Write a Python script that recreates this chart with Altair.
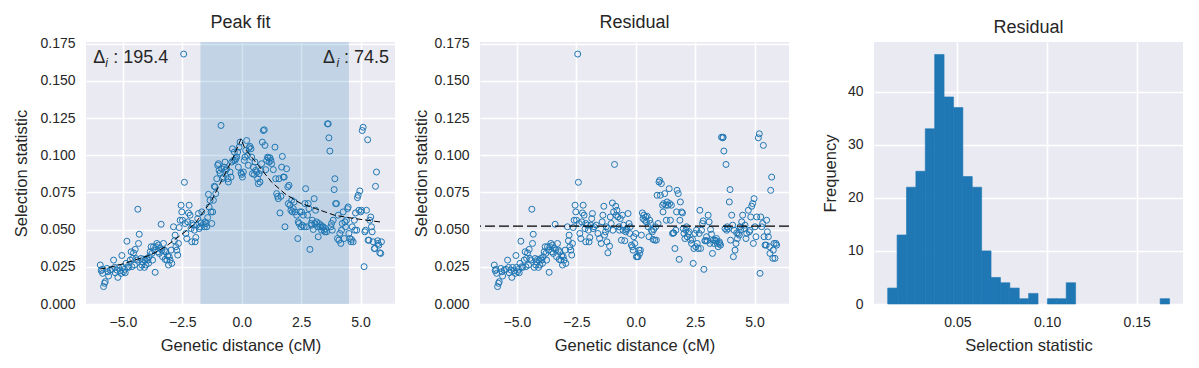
import altair as alt
import pandas as pd
import numpy as np

# ---------------- data ----------------
# Peak-fit panel: genetic distance (cM) and selection statistic
peak_x = [
    -5.95, -5.88, -5.85, -5.81, -5.77, -5.74, -5.91, -5.67, -5.63, -5.60,
    -5.53, -5.46, -5.39, -5.35, -5.32, -5.25, -5.21, -5.18, -5.11, -5.07,
    -5.04, -5.01, -4.97, -4.93, -4.90, -4.87, -4.83, -4.79, -4.76, -4.69,
    -4.65, -4.62, -4.59, -4.55, -4.51, -4.48, -4.45, -4.41, -4.37, -4.34,
    -4.31, -4.27, -4.23, -4.20, -4.17, -4.13, -4.09, -4.06, -4.03, -3.99,
    -3.95, -3.92, -3.89, -3.85, -3.81, -3.78, -3.75, -3.71, -3.67, -3.64,
    -3.61, -3.57, -3.53, -3.50, -3.47, -3.43, -3.39, -3.36, -3.33, -3.29,
    -3.25, -3.22, -3.19, -3.15, -3.11, -3.08, -3.05, -3.01, -2.97, -2.94,
    -2.87, -2.83, -2.80, -2.77, -2.73, -2.69, -2.66, -2.63, -2.59, -2.55,
    -2.52, -2.49, -2.44, -2.41, -2.38, -2.35, -2.31, -2.27, -2.24, -2.21,
    -2.17, -2.13, -2.10, -2.10, -2.03, -1.99, -1.96, -1.93, -1.89, -1.85,
    -1.82, -1.79, -1.75,
    -1.71, -1.68, -1.61, -1.57, -1.54, -1.50, -1.47, -1.43, -1.40, -1.37,
    -1.33, -1.29, -1.26, -1.22, -1.19, -1.15, -1.12, -1.09, -1.05, -1.01,
    -0.98, -0.95, -0.91, -0.87, -0.84, -0.81, -0.77, -0.73, -0.70, -0.67,
    -0.63, -0.59, -0.56, -0.49, -0.45, -0.42, -0.39, -0.35, -0.31, -0.28,
    -0.25, -0.21, -0.17, -0.14, -0.11, -0.07, -0.03, 0.00, 0.03, 0.07,
    0.11, 0.14, 0.17, 0.21, 0.25, 0.28, 0.31, 0.35, 0.39, 0.42,
    0.45, 0.49, 0.53, 0.56, 0.59, 0.63, 0.67, 0.70, 0.73, 0.77,
    0.81, 0.84, 0.87, 0.91, 0.95, 0.98, 1.01, 1.05, 1.09, 1.12,
    1.15, 1.19, 1.23, 1.26, 1.33, 1.40, 1.43, 1.47, 1.51, 1.54,
    1.57, 1.61, 1.65, 1.68, 1.71, 1.75, 1.79, 1.82, 1.89, 1.94,
    1.96, 1.99, 2.03, 2.07, 2.10, 2.13, 2.17, 2.21, 2.24, 2.31,
    2.36, 2.38, 2.41, 2.45, 2.49, 2.52, 2.55, 2.59, 2.63, 2.66,
    2.69, 2.73, 2.77, 2.80, 2.83, 2.87, 2.92, 2.94, 2.97, 3.01,
    3.05, 3.08, 3.11, 3.15, 3.20, 3.22, 3.25, 3.29, 3.33, 3.36,
    3.39, 3.43, 3.47, 3.50, 3.53, 3.57, 3.61, 3.64, 3.67, 3.71,
    3.75, 3.78, 3.81, 3.85, 3.89, 3.92, 3.95, 3.99, 4.03, 4.06,
    4.09, 4.13, 4.17, 4.20, 4.23, 4.27, 4.31, 4.34, 4.37, 4.41,
    4.45, 4.48, 4.51, 4.55, 4.60, 4.62, 4.65, 4.69, 4.74, 4.76,
    4.79, 4.84, 4.87, 4.90, 4.93, 4.97, 5.01, 5.04, 5.07, 5.11,
    5.15, 5.18, 5.21, 5.25, 5.30, 5.32, 5.35, 5.39, 5.43, 5.46,
    5.49, 5.53, 5.58, 5.60, 5.63, 5.67, 5.72, 5.74, 5.77, 5.81,
    5.85, 5.88,
]
peak_y = [
    0.0262, 0.0233, 0.0206, 0.0117, 0.0139, 0.0150, 0.0224, 0.0239, 0.0217, 0.0188,
    0.0228, 0.0233, 0.0295, 0.0246, 0.0210, 0.0228, 0.0179, 0.0246, 0.0224, 0.0206,
    0.0326, 0.0246, 0.0217, 0.0233, 0.0210, 0.0273, 0.0422, 0.0251, 0.0246, 0.0295,
    0.0351, 0.0251, 0.0306, 0.0344, 0.0262, 0.0367, 0.0306, 0.0295, 0.0637, 0.0407,
    0.0469, 0.0246, 0.0306, 0.0262, 0.0284, 0.0300, 0.0246, 0.0295, 0.0262, 0.0306,
    0.0295, 0.0273, 0.0318, 0.0351, 0.0385, 0.0340, 0.0295, 0.0385, 0.0362, 0.0213,
    0.0385, 0.0407, 0.0351, 0.0396, 0.0340, 0.0373, 0.0536, 0.0362, 0.0318, 0.0407,
    0.0362, 0.0300, 0.0351, 0.0295, 0.0322, 0.0262, 0.0318, 0.0295, 0.0362, 0.0273,
    0.0519, 0.0425, 0.0463, 0.0385, 0.0362, 0.0329, 0.0407, 0.0514, 0.0563, 0.0664,
    0.0619, 0.0563, 0.1680, 0.0818, 0.0541, 0.0474, 0.0440, 0.0552, 0.0612, 0.0664,
    0.0597, 0.0507, 0.0541, 0.0418, 0.0530, 0.0496, 0.0418, 0.0447, 0.0530, 0.0574,
    0.0608, 0.0507, 0.0519,
    0.0545, 0.0619, 0.0536, 0.0519, 0.0552, 0.0541, 0.0519, 0.0581, 0.0737, 0.0652,
    0.0697, 0.0619, 0.0541, 0.0619, 0.0697, 0.0791, 0.0787, 0.0742, 0.0842, 0.0932,
    0.0943, 0.0898, 0.0880, 0.1200, 0.0909, 0.0842, 0.0853, 0.0920, 0.0954, 0.0898,
    0.0909, 0.0842, 0.0820, 0.0887, 0.0853, 0.0954, 0.1043, 0.0965, 0.1021, 0.0965,
    0.0976, 0.0987, 0.1021, 0.0920, 0.1054, 0.1088, 0.0880, 0.0871, 0.0853, 0.0887,
    0.0965, 0.0987, 0.1032, 0.1099, 0.0999, 0.0932, 0.1050, 0.1059, 0.1043, 0.0987,
    0.0876, 0.0920, 0.0871, 0.0954, 0.0898, 0.0887, 0.0842, 0.0809, 0.0876, 0.0820,
    0.0898, 0.0943, 0.1088, 0.1166, 0.1171, 0.1066, 0.0903, 0.0965, 0.0987, 0.0983,
    0.0954, 0.0983, 0.0965, 0.0943, 0.0903, 0.1054, 0.0842, 0.0742, 0.0724, 0.0708,
    0.0842, 0.0612, 0.0724, 0.0920, 0.0992, 0.0853, 0.0853, 0.0519, 0.0909, 0.0787,
    0.0675, 0.0798, 0.0664, 0.0630, 0.0697, 0.0619, 0.0641, 0.0686, 0.0619, 0.0597,
    0.0440, 0.0552, 0.0541, 0.0619, 0.0519, 0.0619, 0.0530, 0.0597, 0.0519, 0.0675,
    0.0775, 0.0519, 0.0597, 0.0675, 0.0641, 0.0367, 0.0541, 0.0530, 0.0563, 0.0501,
    0.0708, 0.0541, 0.0630, 0.0552, 0.0519, 0.0452, 0.0541, 0.0519, 0.0530, 0.0496,
    0.0519, 0.0519, 0.0496, 0.0485, 0.0507, 0.0485, 0.1211, 0.1211, 0.1117, 0.1028,
    0.0519, 0.0541, 0.0496, 0.0563, 0.0769, 0.0842, 0.0675, 0.0675, 0.0440, 0.0597,
    0.0429, 0.0474, 0.0407, 0.0496, 0.0541, 0.0619, 0.0440, 0.0552, 0.0519, 0.0563,
    0.0641, 0.0652, 0.0474, 0.0440, 0.0418, 0.0434, 0.0519, 0.0418, 0.0563, 0.0496,
    0.0612, 0.0496, 0.0715, 0.0731, 0.0630, 0.0760, 0.0619, 0.0630, 0.1166, 0.1188,
    0.0251, 0.0485, 0.0496, 0.0630, 0.1104, 0.0429, 0.0429, 0.0563, 0.0585, 0.0519,
    0.0485, 0.0418, 0.0373, 0.0373, 0.0791, 0.0887, 0.0425, 0.0407, 0.0396, 0.0344,
    0.0340, 0.0418,
]
# points left of the shaded window are unchanged in the residual panel
n_unchanged_left = 113

# Residual panel: points from the shaded window onwards
resid_x = [
    -1.66, -1.59, -1.52, -1.45, -1.41, -1.38, -1.34, -1.31, -1.27, -1.24,
    -1.21, -1.17, -1.17, -1.10, -1.07, -1.03, -0.98, -0.96, -0.93, -0.89,
    -0.84, -0.82, -0.79, -0.75, -0.70, -0.68, -0.65, -0.60, -0.56, -0.53,
    -0.51, -0.46, -0.42, -0.39, -0.37, -0.32, -0.28, -0.25, -0.23, -0.18,
    -0.14, -0.11, -0.08, -0.04, 0.00, 0.03, 0.06, 0.10, 0.14, 0.17,
    0.20, 0.24, 0.28, 0.31, 0.34, 0.38, 0.42, 0.45, 0.48, 0.52,
    0.56, 0.59, 0.62, 0.66, 0.70, 0.73, 0.76, 0.80, 0.84, 0.87,
    0.90, 0.94, 0.98, 1.01, 1.04, 1.08, 1.13, 1.15, 1.18, 1.22,
    1.27, 1.29, 1.32, 1.36, 1.41, 1.43, 1.46, 1.50, 1.55, 1.58,
    1.60, 1.65, 1.69, 1.72, 1.74, 1.79, 1.83, 1.86, 1.88, 1.93,
    1.97, 2.00, 2.03, 2.07, 2.11, 2.14, 2.17, 2.21, 2.25, 2.31,
    2.35, 2.39, 2.42, 2.45, 2.49, 2.53, 2.56, 2.59, 2.63, 2.67,
    2.70, 2.73, 2.77, 2.81, 2.84, 2.87, 2.91, 2.95, 2.98, 3.01,
    3.05, 3.09, 3.12, 3.15, 3.19, 3.23, 3.26, 3.29, 3.33, 3.38,
    3.40, 3.43, 3.47, 3.52, 3.54, 3.57, 3.61, 3.66, 3.68, 3.71,
    3.76, 3.80, 3.83, 3.85, 3.90, 3.94, 3.97, 3.99, 4.04, 4.08,
    4.11, 4.14, 4.18, 4.22, 4.25, 4.28, 4.32, 4.36, 4.39, 4.42,
    4.46, 4.50,
    4.56, 4.60, 4.64, 4.67, 4.74, 4.78, 4.81, 4.84, 4.88, 4.92,
    4.95, 4.98, 5.02, 5.06, 5.09, 5.16, 5.20, 5.23, 5.26, 5.30,
    5.34, 5.37, 5.40, 5.44, 5.49, 5.51, 5.54, 5.58, 5.63, 5.65,
    5.68, 5.72, 5.77, 5.79, 5.82, 5.86, 5.90, 5.93,
]
resid_y = [
    0.0530, 0.0474, 0.0440, 0.0407, 0.0552, 0.0597, 0.0657, 0.0463, 0.0485, 0.0519,
    0.0418, 0.0507, 0.0344, 0.0389, 0.0585, 0.0541, 0.0679, 0.0496, 0.0619, 0.0938,
    0.0657, 0.0597, 0.0630, 0.0585, 0.0519, 0.0496, 0.0574, 0.0429, 0.0597, 0.0496,
    0.0530, 0.0425, 0.0485, 0.0496, 0.0507, 0.0608, 0.0541, 0.0474, 0.0519, 0.0396,
    0.0385, 0.0362, 0.0452, 0.0407, 0.0474, 0.0318, 0.0318, 0.0318, 0.0362, 0.0340,
    0.0362, 0.0463, 0.0612, 0.0574, 0.0597, 0.0563, 0.0585, 0.0552, 0.0590, 0.0519,
    0.0452, 0.0563, 0.0541, 0.0496, 0.0485, 0.0434, 0.0501, 0.0429, 0.0519, 0.0429,
    0.0731, 0.0541, 0.0820, 0.0831, 0.0731, 0.0809, 0.0664, 0.0619, 0.0675, 0.0742,
    0.0664, 0.0563, 0.0686, 0.0664, 0.0775, 0.0675, 0.0563, 0.0664, 0.0474, 0.0478,
    0.0478, 0.0373, 0.0496, 0.0619, 0.0764, 0.0742, 0.0300, 0.0563, 0.0686, 0.0619,
    0.0612, 0.0507, 0.0474, 0.0440, 0.0496, 0.0519, 0.0452, 0.0474, 0.0485, 0.0429,
    0.0407, 0.0434, 0.0273, 0.0373, 0.0474, 0.0385, 0.0496, 0.0407, 0.0373, 0.0474,
    0.0630, 0.0373, 0.0496, 0.0541, 0.0559, 0.0233, 0.0425, 0.0425, 0.0452, 0.0425,
    0.0597, 0.0552, 0.0407, 0.0501, 0.0469, 0.0340, 0.0429, 0.0407, 0.0429, 0.0425,
    0.0440, 0.0407, 0.0385, 0.0418, 0.0407, 0.0396, 0.1121, 0.1117, 0.1121, 0.1028,
    0.0507, 0.0938, 0.0496, 0.0519, 0.0507, 0.0686, 0.0769, 0.0429, 0.0597, 0.0530,
    0.0318, 0.0496, 0.0362, 0.0407, 0.0478, 0.0440, 0.0474, 0.0463, 0.0519, 0.0496,
    0.0552, 0.0597,
    0.0507, 0.0530, 0.0440, 0.0474, 0.0630, 0.0485, 0.0496, 0.0585, 0.0657, 0.0675,
    0.0407, 0.0708, 0.0519, 0.0452, 0.0585, 0.1117, 0.1144, 0.0206, 0.0585, 0.0519,
    0.0541, 0.1066, 0.0452, 0.0396, 0.0396, 0.0563, 0.0485, 0.0452, 0.0385, 0.0340,
    0.0764, 0.0853, 0.0307, 0.0362, 0.0407, 0.0307, 0.0407, 0.0396,
]

# Fitted peak curve (dashed line in the first panel)
fit_x = [-5.95, -5.46, -5.04, -3.85, -3.22, -2.38, -1.96, -1.26, -0.84, -0.35,
         -0.03, 0.14, 0.70, 1.26, 1.82, 2.45, 3.11, 3.92, 4.76, 5.84]
fit_y = [0.0235, 0.0250, 0.0268, 0.0328, 0.0384, 0.0485, 0.0541, 0.0697, 0.0831, 0.0987,
         0.1110, 0.1043, 0.0931, 0.0819, 0.0741, 0.0679, 0.0641, 0.0596, 0.0574, 0.0551]

window_lo, window_hi = -1.735, 4.51
resid_level = 0.0523
delta_left, delta_right = "195.4", "74.5"

# Histogram of the residual statistic (30 bins)
hist_min, hist_max = 0.0111, 0.1683
hist_counts = [3, 13, 22, 25, 33, 47, 39, 37, 24, 22,
               10, 5, 4, 3, 1, 2, 0, 1, 1, 4,
               0, 0, 0, 0, 0, 0, 0, 0, 0, 1]

# ---------------- tables ----------------
peak_df = pd.DataFrame({"x": peak_x, "y": peak_y})
res_df = pd.DataFrame({
    "x": peak_x[:n_unchanged_left] + resid_x,
    "y": peak_y[:n_unchanged_left] + resid_y,
})
fit_df = pd.DataFrame({"x": fit_x, "y": fit_y})
edges = np.linspace(hist_min, hist_max, len(hist_counts) + 1)
hist_df = pd.DataFrame({"lo": edges[:-1], "hi": edges[1:], "n": hist_counts})
hist_df = hist_df[hist_df["n"] > 0]

# ---------------- style ----------------
BLUE = "#1f77b4"
FONT = "Liberation Sans"
TXT = "#262626"
W, H = 309, 262
YMAX = 0.1761

xs = alt.Scale(domain=[-6.55, 6.45], nice=False, zero=False)
ys = alt.Scale(domain=[0, YMAX], nice=False)
xticks = [-5, -2.5, 0, 2.5, 5]
yticks = [0, 0.025, 0.05, 0.075, 0.1, 0.125, 0.15, 0.175]


def xax():
    return alt.Axis(values=xticks, format=".1f", title="Genetic distance (cM)",
                    labelOverlap=False)


def yax(tp):
    return alt.Axis(values=yticks, format=".3f", title="Selection statistic",
                    labelOverlap=False, titlePadding=tp)


def X(field):
    return alt.X(f"{field}:Q", scale=xs, axis=xax())


def Y(field, tp):
    return alt.Y(f"{field}:Q", scale=ys, axis=yax(tp))


def scatter(df, tp):
    return alt.Chart(df).mark_point(
        shape="circle", filled=False, color=BLUE, size=36, strokeWidth=1, opacity=1
    ).encode(x=X("x"), y=Y("y", tp))


# Panel 1: peak fit
TP1 = 10
win_df = pd.DataFrame({"lo": [window_lo], "hi": [window_hi], "y0": [0.0], "y1": [YMAX]})
window = alt.Chart(win_df).mark_rect(color=BLUE, opacity=0.2).encode(
    x=X("lo"), x2="hi:Q", y=Y("y0", TP1), y2="y1:Q",
)
fit_line = alt.Chart(fit_df).mark_line(color="black", strokeWidth=1, strokeDash=[6, 3]).encode(
    x=X("x"), y=Y("y", TP1)
)

ann_y = 0.1655
ann_df = pd.DataFrame({"xl": [-6.25], "xr": [6.2], "y": [ann_y]})
TS = 18


def txt(text, xfield, align, dx=0, dy=0, size=TS, style="normal"):
    return alt.Chart(ann_df).mark_text(
        text=text, align=align, baseline="middle", dx=dx, dy=dy,
        fontSize=size, font=FONT, color=TXT, fontStyle=style,
    ).encode(x=X(xfield), y=Y("y", TP1))


ann = (
    txt("Δ", "xl", "left")
    + txt("i", "xl", "left", dx=12, dy=5, size=12, style="italic")
    + txt(": " + delta_left, "xl", "left", dx=20)
    + txt(": " + delta_right, "xr", "right")
    + txt("i", "xr", "right", dx=-50, dy=5, size=12, style="italic")
    + txt("Δ", "xr", "right", dx=-54)
)

p1 = alt.layer(window, scatter(peak_df, TP1), fit_line, ann).properties(
    width=W, height=H, title="Peak fit"
)

# Panel 2: residual scatter
TP2 = 4
level = alt.Chart(pd.DataFrame({"y": [resid_level]})).mark_rule(
    color="black", strokeWidth=1.3, strokeDash=[10, 4]
).encode(y=Y("y", TP2))
p2 = alt.layer(scatter(res_df, TP2), level).properties(width=W, height=H, title="Residual")

# Panel 3: histogram
p3 = alt.Chart(hist_df).mark_rect(color=BLUE, stroke=BLUE, strokeWidth=0.6).encode(
    x=alt.X("lo:Q", scale=alt.Scale(domain=[0.00346, 0.1758], nice=False, zero=False),
            axis=alt.Axis(values=[0.05, 0.10, 0.15], format=".2f", title="Selection statistic",
                          labelOverlap=False)),
    x2="hi:Q",
    y=alt.Y("n:Q", scale=alt.Scale(domain=[0, 49.35], nice=False),
            axis=alt.Axis(values=[0, 10, 20, 30, 40], format="d", title="Frequency",
                          labelOverlap=False, titlePadding=9)),
    y2=alt.datum(0),
).properties(width=W, height=H, title="Residual")

chart = alt.hconcat(p1, p2, p3, spacing=85, bounds="flush").properties(
    padding={"left": 5, "top": 5, "right": 5, "bottom": 5}
).configure_view(
    fill="#EAEAF2", stroke="#EAEAF2", strokeWidth=0
).configure_axis(
    grid=True, gridColor="white", gridWidth=1.6, domain=False, ticks=False,
    labelFont=FONT, labelFontSize=14, labelColor=TXT, labelPadding=11,
    titleFont=FONT, titleFontSize=16.5, titleColor=TXT, titleFontWeight="normal",
    titlePadding=8,
).configure_title(
    font=FONT, fontSize=18, fontWeight="normal", color=TXT, anchor="middle", offset=5
)

chart.save("out.html", embed_options={"renderer": "svg", "actions": False})
